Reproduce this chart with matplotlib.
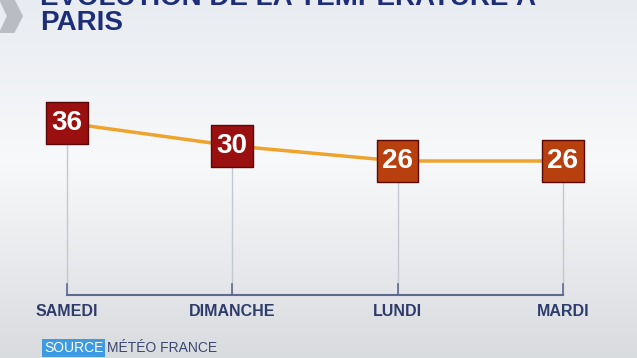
import matplotlib.pyplot as plt
import numpy as np
from matplotlib.patches import Polygon

plt.rcParams['font.family'] = ['Liberation Sans', 'DejaVu Sans']

jours = ['SAMEDI', 'DIMANCHE', 'LUNDI', 'MARDI']
temperatures = [36, 30, 26, 26]
couleurs = ['#9a1010', '#9a1010', '#b8400e', '#b8400e']

W, H = 637, 358
fig = plt.figure(figsize=(W / 100, H / 100), dpi=100)

# fond en degrade
bg = fig.add_axes([0, 0, 1, 1])
grad = np.linspace(0, 1, 256).reshape(-1, 1)
top = np.array([0.91, 0.925, 0.945])
mid = np.array([0.97, 0.975, 0.98])
bot = np.array([0.85, 0.86, 0.875])
img = np.where(grad < 0.45, top + (mid - top) * (grad / 0.45),
               mid + (bot - mid) * ((grad - 0.45) / 0.55))
img = np.repeat(img[:, None, :], 2, axis=1).reshape(256, 2, 3)
bg.imshow(img, aspect='auto', extent=[0, 1, 0, 1], origin='upper')
bg.add_patch(Polygon([[0, 1], [0.022, 1], [0.035, 0.955], [0.022, 0.91],
                      [0.0, 0.91], [0.012, 0.955]], closed=True,
                     color='#b9bcc2'))
bg.set_xlim(0, 1)
bg.set_ylim(0, 1)
bg.axis('off')

# zone du graphique: du haut (0 px) jusqu'a la ligne de base (295 px)
base_px = 295
ax = fig.add_axes([0, 1 - base_px / H, 1, base_px / H])
ax.set_facecolor('none')
ax.set_xlim(-0.405, 3.448)
ax.set_ylim(-9.3, 68.4)
ax.axis('off')

x = np.arange(len(jours))
for xi, t in zip(x, temperatures):
    ax.plot([xi, xi], [-9.3, t], color='#c3c8d2', lw=1, zorder=1)
ax.plot(x, temperatures, color='#eea42c', lw=2.5, zorder=2)
ax.scatter(x, temperatures, marker='s', s=900, c=couleurs,
           edgecolors='#5a0808', linewidths=1, zorder=3)
for xi, t in zip(x, temperatures):
    ax.text(xi, t, str(t), color='white', fontsize=20, fontweight='bold',
            ha='center', va='center', zorder=4)

# ligne de base avec petites graduations
ax.plot([0, 3], [-9.3, -9.3], color='#5d6b8f', lw=1.5, clip_on=False, zorder=2)
for xi, j in zip(x, jours):
    ax.plot([xi, xi], [-9.3, -6.3], color='#5d6b8f', lw=1.2, zorder=2)
    fig.text((67 + 165.3 * xi) / W, 1 - 312 / H, j, color='#2e3c6c',
             fontsize=11.5, fontweight='bold', ha='center', va='center')

# titre
fig.text(40 / W, 1 - 5 / H, 'ÉVOLUTION DE LA TEMPÉRATURE À', color='#1c2d7a',
         fontsize=20, fontweight='bold', ha='left', va='baseline')
fig.text(40 / W, 1 - 30 / H, 'PARIS', color='#1c2d7a',
         fontsize=20, fontweight='bold', ha='left', va='baseline')

# source
fig.text(44 / W, 1 - 348 / H, 'SOURCE', color='white', fontsize=10,
         ha='left', va='center',
         bbox=dict(boxstyle='square,pad=0.15', fc='#3c9be2', ec='none'))
fig.text(107 / W, 1 - 348 / H, 'MÉTÉO FRANCE', color='#3a4770', fontsize=10,
         ha='left', va='center')

fig.savefig('out.png', dpi=100)
